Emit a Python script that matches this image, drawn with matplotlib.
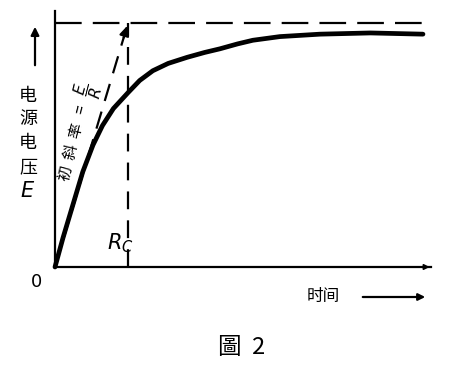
import matplotlib
matplotlib.use('Agg')
import matplotlib.pyplot as plt

plt.rcParams['font.family'] = ['Noto Sans CJK TC', 'DejaVu Sans']

# charging curve (time in units of RC, voltage in units of E)
t_vals = [0, 0.11, 0.25, 0.38, 0.52, 0.65, 0.8, 1.0, 1.16, 1.34, 1.55, 1.81,
          2.05, 2.26, 2.5, 2.71, 3.08, 3.63, 4.32, 5.04]
v_vals = [0, 0.12, 0.26, 0.39, 0.5, 0.58, 0.65, 0.715, 0.765, 0.805, 0.835, 0.86,
          0.88, 0.895, 0.915, 0.93, 0.945, 0.955, 0.96, 0.955]
# initial slope line and the RC marker
tangent_t = [0, 1.0]
tangent_v = [0, 1.0]
rc_time = 1.0
e_level = 1.0
t_end = 5.16

W, H = 449, 367
fig = plt.figure(figsize=(W / 100, H / 100), dpi=100)
ax = fig.add_axes([55 / W, 100 / H, 376 / W, 256 / H])
ax.set_xlim(0, 5.15)
ax.set_ylim(0, 1.05)
ax.set_xticks([])
ax.set_yticks([])
for s in ['top', 'right']:
    ax.spines[s].set_visible(False)
for s in ['left', 'bottom']:
    ax.spines[s].set_linewidth(1.6)
ax.patch.set_alpha(0)

# the curve itself
ax.plot(t_vals, v_vals, color='black', lw=3.4, solid_capstyle='round',
        solid_joinstyle='round', clip_on=False)
# E level and RC marker
ax.plot([0, t_end], [e_level, e_level], color='black', lw=1.6, dashes=(12, 5), clip_on=False)
ax.plot([rc_time, rc_time], [0, e_level], color='black', lw=1.6, dashes=(8, 5))
# initial slope with arrow
ax.plot(tangent_t, tangent_v, color='black', lw=1.6, dashes=(8, 5))
ax.annotate('', xy=(tangent_t[1], tangent_v[1]), xytext=(0.93, 0.93),
            arrowprops=dict(arrowstyle='-|>', color='black', lw=1.6, mutation_scale=14))
# small arrow head at the end of the time axis
ax.annotate('', xy=(5.17, 0), xytext=(5.0, 0),
            arrowprops=dict(arrowstyle='-|>', color='black', lw=1.2, mutation_scale=8),
            annotation_clip=False)

ax.text(0.3, 0.55, '初  斜  率   =   $\\dfrac{E}{R}$', rotation=76, fontsize=11,
        ha='center', va='center', transform=ax.transData)

def fx(x):
    return x / W

def fy(y):
    return 1 - y / H

# y label stacked vertically
for ch, y in zip(['电', '源', '电', '压'], [96, 119, 143, 167]):
    fig.text(fx(28), fy(y), ch, fontsize=13, ha='center', va='center')
fig.text(fx(28), fy(191), '$\\mathit{E}$', fontsize=15, ha='center', va='center')
fig.patches.append(matplotlib.patches.FancyArrowPatch(
    (fx(35), fy(68)), (fx(35), fy(24)), transform=fig.transFigure,
    arrowstyle='-|>', mutation_scale=12, color='black', lw=1.6))

fig.text(fx(36), fy(282), '$\\mathit{0}$', fontsize=13, ha='center', va='center')
fig.text(fx(120), fy(243), '$R_C$', fontsize=15, ha='center', va='center')
fig.text(fx(323), fy(296), '时间', fontsize=12, ha='center', va='center')
fig.patches.append(matplotlib.patches.FancyArrowPatch(
    (fx(360), fy(297)), (fx(428), fy(297)), transform=fig.transFigure,
    arrowstyle='-|>', mutation_scale=10, color='black', lw=1.6))
fig.text(fx(242), fy(347), '圖  2', fontsize=17, ha='center', va='center',
         family=['Noto Sans CJK TC', 'DejaVu Serif'])

fig.savefig('out.png', dpi=100)
